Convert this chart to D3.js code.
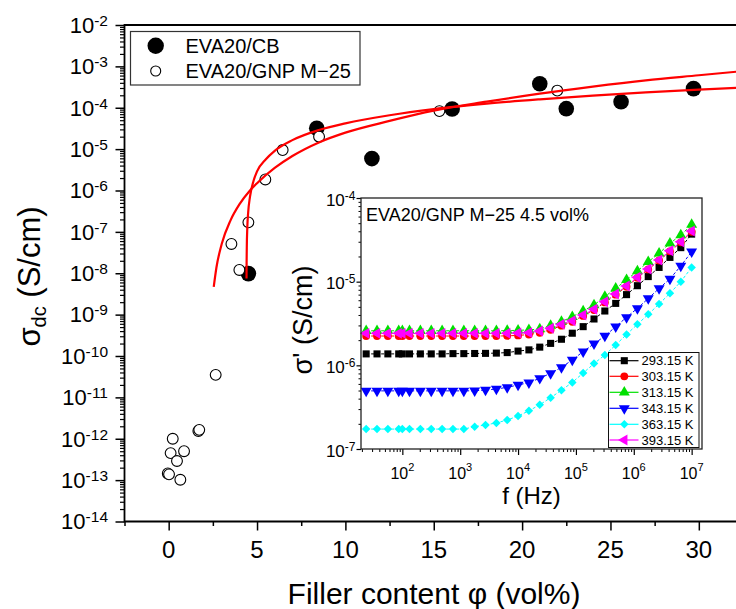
<!DOCTYPE html>
<html><head><meta charset="utf-8">
<script src="https://cdn.jsdelivr.net/npm/d3@7"></script>
<style>
html,body{margin:0;padding:0;background:#fff;}
svg{display:block;font-family:"Liberation Sans",Arial,sans-serif;}
</style></head>
<body>
<svg id="chart" width="736" height="609"></svg>
<script>
// ---------------- main plot data ----------------
const cbPhi   = [4.51, 8.38, 11.5, 16.04, 21.0, 22.5, 25.6, 29.7];
const cbSigma = [9.8e-9, 3.2e-5, 5.9e-6, 9.3e-5, 3.8e-4, 9.5e-5, 1.4e-4, 2.9e-4];

const gnpPhi   = [-0.05, 0.02, 0.11, 0.23, 0.47, 0.66, 0.87, 1.68, 1.73, 2.66, 3.55, 4.0, 4.51, 5.47, 6.45, 8.51, 15.32, 21.99];
const gnpSigma = [1.45e-13, 1.38e-13, 4.5e-13, 1.0e-12, 2.9e-13, 1.02e-13, 5.0e-13, 1.54e-12, 1.64e-12, 3.5e-11, 5.1e-8, 1.2e-8, 1.7e-7, 1.85e-6, 9.5e-6, 2.0e-5, 8.3e-5, 2.6e-4];

// fitted percolation curves
const gnpFitPhi   = [2.55, 2.7, 3.0, 3.5, 4.0, 4.6, 5.0, 6.0, 7.0, 8.5, 10, 12.5, 15, 18, 21, 24, 27, 30, 32.5];
const gnpFitSigma = [4.7e-9, 1.36e-8, 5.1e-8, 1.9e-7, 4.6e-7, 1.0e-6, 1.5e-6, 3.5e-6, 6.8e-6, 1.45e-5, 2.5e-5, 4.8e-5, 8.5e-5, 1.4e-4, 2.2e-4, 3.25e-4, 4.6e-4, 6.1e-4, 7.7e-4];
const cbFitPhi   = [4.405, 4.41, 4.42, 4.45, 4.5, 4.6, 4.8, 5.0, 5.5, 6.0, 7.0, 8.5, 10, 12.5, 15, 18, 21, 24, 27, 30, 32.5];
const cbFitSigma = [7.5e-9, 1.76e-8, 4.1e-8, 1.28e-7, 3.0e-7, 7.0e-7, 1.7e-6, 2.9e-6, 5.7e-6, 9.1e-6, 1.65e-5, 2.9e-5, 4.2e-5, 6.6e-5, 9.3e-5, 1.26e-4, 1.6e-4, 1.97e-4, 2.35e-4, 2.74e-4, 3.08e-4];

const xTicksMain = [0, 5, 10, 15, 20, 25, 30];
const xMinorMain = [-2.5, 2.5, 7.5, 12.5, 17.5, 22.5, 27.5, 32.5];
const yExpMain = [-14, -13, -12, -11, -10, -9, -8, -7, -6, -5, -4, -3, -2];

// ---------------- inset data ----------------
const freq = [23.7, 36.5, 56.2, 86.6, 100, 133, 205, 316, 487, 750, 1155, 1778, 2738, 4217, 6494,
  1.0e4, 1.54e4, 2.371e4, 3.652e4, 5.623e4, 8.66e4, 1.334e5, 2.054e5, 3.162e5, 4.87e5, 7.499e5,
  1.155e6, 1.778e6, 2.738e6, 4.217e6, 6.494e6, 1.0e7];

const s293 = [1.37e-6,1.37e-6,1.37e-6,1.37e-6,1.37e-6,1.37e-6,1.37e-6,1.37e-6,1.37e-6,1.38e-6,1.38e-6,
  1.385e-6,1.39e-6,1.40e-6,1.42e-6,1.48e-6,1.53e-6,1.65e-6,1.83e-6,2.05e-6,2.42e-6,2.9e-6,3.58e-6,
  4.46e-6,5.5e-6,7.0e-6,8.95e-6,1.15e-5,1.48e-5,1.95e-5,2.55e-5,3.7e-5];
const s303 = [2.24e-6,2.24e-6,2.24e-6,2.24e-6,2.24e-6,2.24e-6,2.24e-6,2.24e-6,2.24e-6,2.24e-6,2.24e-6,
  2.24e-6,2.24e-6,2.24e-6,2.25e-6,2.28e-6,2.33e-6,2.45e-6,2.66e-6,2.98e-6,3.32e-6,3.9e-6,4.58e-6,
  5.65e-6,7.0e-6,8.7e-6,1.11e-5,1.4e-5,1.79e-5,2.3e-5,2.95e-5,3.95e-5];
const s313 = [2.59e-6,2.59e-6,2.59e-6,2.59e-6,2.59e-6,2.59e-6,2.59e-6,2.59e-6,2.59e-6,2.59e-6,2.59e-6,
  2.59e-6,2.59e-6,2.59e-6,2.6e-6,2.62e-6,2.65e-6,2.72e-6,2.98e-6,3.33e-6,3.81e-6,4.46e-6,5.26e-6,
  6.62e-6,8.32e-6,1.05e-5,1.34e-5,1.73e-5,2.18e-5,2.87e-5,3.61e-5,4.8e-5];
const s343 = [4.95e-7,4.95e-7,4.95e-7,4.95e-7,4.95e-7,4.95e-7,4.95e-7,4.95e-7,4.95e-7,4.95e-7,4.95e-7,
  4.97e-7,5.07e-7,5.21e-7,5.46e-7,5.82e-7,6.21e-7,7.0e-7,8.03e-7,9.47e-7,1.16e-6,1.46e-6,1.81e-6,
  2.24e-6,2.9e-6,3.75e-6,4.8e-6,6.3e-6,8.3e-6,1.08e-5,1.54e-5,2.28e-5];
const s363 = [1.73e-7,1.73e-7,1.73e-7,1.73e-7,1.73e-7,1.73e-7,1.73e-7,1.73e-7,1.73e-7,1.73e-7,1.73e-7,
  1.85e-7,1.94e-7,2.05e-7,2.22e-7,2.48e-7,2.86e-7,3.38e-7,4.1e-7,5.05e-7,6.25e-7,8.1e-7,1.05e-6,
  1.33e-6,1.75e-6,2.34e-6,3.09e-6,4.07e-6,5.4e-6,7.26e-6,1.0e-5,1.48e-5];
const s393 = [2.41e-6,2.41e-6,2.41e-6,2.41e-6,2.41e-6,2.41e-6,2.41e-6,2.41e-6,2.41e-6,2.41e-6,2.41e-6,
  2.41e-6,2.41e-6,2.41e-6,2.42e-6,2.44e-6,2.46e-6,2.57e-6,2.77e-6,3.09e-6,3.42e-6,4.0e-6,4.68e-6,
  5.77e-6,7.13e-6,8.87e-6,1.13e-5,1.42e-5,1.82e-5,2.34e-5,3.0e-5,4.04e-5];

const insetSeriesNames = ["293.15 K", "303.15 K", "313.15 K", "343.15 K", "363.15 K", "393.15 K"];
const insetSeriesValues = [s293, s303, s313, s343, s363, s393];
const insetColors = ["#000000", "#ff0000", "#00e000", "#0000ff", "#00ffff", "#ff00ff"];
const insetXExp = [2, 3, 4, 5, 6, 7];
const insetYExp = [-7, -6, -5, -4];

// ---------------- drawing ----------------
const svg = d3.select("#chart");

const M = {left: 124.5, right: 743, top: 25, bottom: 521.5};
const x = d3.scaleLinear().domain([-2.5, 32.5]).range([M.left, M.right]);
const y = d3.scaleLog().domain([1e-14, 1e-2]).range([M.bottom, M.top]);

function minorLog(expArr) {
  const out = [];
  for (let i = 0; i < expArr.length - 1; i++)
    for (let k = 2; k <= 9; k++) out.push(k * Math.pow(10, expArr[i]));
  return out;
}
function powLabel(sel, e, baseSize, supSize, supDy) {
  sel.append("tspan").attr("font-size", baseSize).text("10");
  sel.append("tspan").attr("font-size", supSize).attr("dy", supDy).text(String(e));
}

// main axes (ticks)
const gMain = svg.append("g");
gMain.append("g").attr("transform", `translate(0,${M.bottom})`)
  .call(d3.axisBottom(x).tickValues(xTicksMain).tickSize(9).tickSizeOuter(0).tickFormat(() => ""))
  .call(g => g.select(".domain").remove())
  .call(g => g.selectAll("line").attr("stroke", "#000").attr("stroke-width", 1.5));
gMain.append("g").attr("transform", `translate(0,${M.bottom})`)
  .call(d3.axisBottom(x).tickValues(xMinorMain).tickSize(4.5).tickSizeOuter(0).tickFormat(() => ""))
  .call(g => g.select(".domain").remove())
  .call(g => g.selectAll("line").attr("stroke", "#000").attr("stroke-width", 1.5));
gMain.append("g").attr("transform", `translate(${M.left},0)`)
  .call(d3.axisLeft(y).tickValues(yExpMain.map(e => Math.pow(10, e))).tickSize(9).tickSizeOuter(0).tickFormat(() => ""))
  .call(g => g.select(".domain").remove())
  .call(g => g.selectAll("line").attr("stroke", "#000").attr("stroke-width", 1.5));
gMain.append("g").attr("transform", `translate(${M.left},0)`)
  .call(d3.axisLeft(y).tickValues(minorLog(yExpMain)).tickSize(4.5).tickSizeOuter(0).tickFormat(() => ""))
  .call(g => g.select(".domain").remove())
  .call(g => g.selectAll("line").attr("stroke", "#000").attr("stroke-width", 1.2));

// main tick labels
svg.append("g").selectAll("text").data(xTicksMain).join("text")
  .attr("x", d => x(d)).attr("y", M.bottom + 36.5)
  .attr("text-anchor", "middle").attr("font-size", 24).attr("fill", "#000")
  .text(d => d);
svg.append("g").selectAll("text").data(yExpMain).join("text")
  .attr("x", M.left - 16.5).attr("y", d => y(Math.pow(10, d)) + 7.8)
  .attr("text-anchor", "end").attr("fill", "#000")
  .each(function(e) { powLabel(d3.select(this), e, 22, 15.5, -7); });

// frame
svg.append("path")
  .attr("d", `M${M.right},${M.top}H${M.left}V${M.bottom}H${M.right}`)
  .attr("fill", "none").attr("stroke", "#000").attr("stroke-width", 1.8);

// main data markers
svg.append("g").selectAll("circle").data(cbPhi.map((p, i) => [p, cbSigma[i]])).join("circle")
  .attr("cx", d => x(d[0])).attr("cy", d => y(d[1])).attr("r", 7.8).attr("fill", "#000");
svg.append("g").selectAll("circle").data(gnpPhi.map((p, i) => [p, gnpSigma[i]])).join("circle")
  .attr("cx", d => x(d[0])).attr("cy", d => y(d[1])).attr("r", 5.4)
  .attr("fill", "#fff").attr("stroke", "#000").attr("stroke-width", 1.1);

// fitted curves
const lineMain = d3.line().x(d => x(d[0])).y(d => y(d[1])).curve(d3.curveMonotoneX);
svg.append("path").datum(gnpFitPhi.map((p, i) => [p, gnpFitSigma[i]]))
  .attr("d", lineMain).attr("fill", "none").attr("stroke", "#ff0000").attr("stroke-width", 2.2);
svg.append("path").datum(cbFitPhi.map((p, i) => [p, cbFitSigma[i]]))
  .attr("d", lineMain).attr("fill", "none").attr("stroke", "#ff0000").attr("stroke-width", 2.2);

// main legend
const lg = svg.append("g");
lg.append("rect").attr("x", 130.5).attr("y", 31.5).attr("width", 229.5).attr("height", 53.5)
  .attr("fill", "#fff").attr("stroke", "#333").attr("stroke-width", 1.2);
lg.append("circle").attr("cx", 155.7).attr("cy", 45.7).attr("r", 8.2).attr("fill", "#000");
lg.append("text").attr("x", 185.5).attr("y", 52.8).attr("font-size", 20).text("EVA20/CB");
lg.append("circle").attr("cx", 155.7).attr("cy", 71).attr("r", 5).attr("fill", "#fff")
  .attr("stroke", "#000").attr("stroke-width", 1.1);
lg.append("text").attr("x", 185.5).attr("y", 78.2).attr("font-size", 20).text("EVA20/GNP M\u221225");

// axis titles
svg.append("text").attr("x", 434).attr("y", 604).attr("text-anchor", "middle")
  .attr("font-size", 30).text("Filler content \u03c6 (vol%)");
const yt = svg.append("text").attr("transform", "translate(40,276.5) rotate(-90)")
  .attr("text-anchor", "middle").attr("font-size", 31);
yt.append("tspan").text("\u03c3");
yt.append("tspan").attr("font-size", 20).attr("dy", 6).text("dc");
yt.append("tspan").attr("dy", -6).text(" (S/cm)");

// ---------------- inset ----------------
const I = {left: 361, right: 702, top: 198, bottom: 449};
const xi = d3.scaleLog().domain([19.3, 1.51e7]).range([I.left, I.right]);
const yi = d3.scaleLog().domain([1e-7, 1e-4]).range([I.bottom, I.top]);

svg.append("rect").attr("x", I.left).attr("y", I.top)
  .attr("width", I.right - I.left).attr("height", I.bottom - I.top).attr("fill", "#fff");

const gi = svg.append("g");
const insetXMinor = [];
for (let e = 1; e <= 7; e++) for (let k = 2; k <= 9; k++) {
  const v = k * Math.pow(10, e);
  if (v >= 19.3 && v <= 1.51e7) insetXMinor.push(v);
}
gi.append("g").attr("transform", `translate(0,${I.bottom})`)
  .call(d3.axisBottom(xi).tickValues(insetXExp.map(e => Math.pow(10, e))).tickSize(6).tickSizeOuter(0).tickFormat(() => ""))
  .call(g => g.select(".domain").remove())
  .call(g => g.selectAll("line").attr("stroke", "#000").attr("stroke-width", 1.2));
gi.append("g").attr("transform", `translate(0,${I.bottom})`)
  .call(d3.axisBottom(xi).tickValues(insetXMinor).tickSize(3).tickSizeOuter(0).tickFormat(() => ""))
  .call(g => g.select(".domain").remove())
  .call(g => g.selectAll("line").attr("stroke", "#000").attr("stroke-width", 1));
gi.append("g").attr("transform", `translate(${I.left},0)`)
  .call(d3.axisLeft(yi).tickValues(insetYExp.map(e => Math.pow(10, e))).tickSize(4.5).tickSizeOuter(0).tickFormat(() => ""))
  .call(g => g.select(".domain").remove())
  .call(g => g.selectAll("line").attr("stroke", "#000").attr("stroke-width", 1.2));
gi.append("g").attr("transform", `translate(${I.left},0)`)
  .call(d3.axisLeft(yi).tickValues(minorLog(insetYExp)).tickSize(2.5).tickSizeOuter(0).tickFormat(() => ""))
  .call(g => g.select(".domain").remove())
  .call(g => g.selectAll("line").attr("stroke", "#000").attr("stroke-width", 1));

svg.append("g").selectAll("text").data(insetXExp).join("text")
  .attr("x", d => xi(Math.pow(10, d))).attr("y", I.bottom + 29.5)
  .attr("text-anchor", "middle").attr("fill", "#000")
  .each(function(e) { powLabel(d3.select(this), e, 16, 11, -8); });
svg.append("g").selectAll("text").data(insetYExp).join("text")
  .attr("x", I.left - 5.5).attr("y", d => yi(Math.pow(10, d)) + 7.5)
  .attr("text-anchor", "end").attr("fill", "#000")
  .each(function(e) { powLabel(d3.select(this), e, 17, 12, -6); });

// inset series
const markerGen = [
  d3.symbol().type(d3.symbolSquare).size(50),
  d3.symbol().type(d3.symbolCircle).size(48),
  d3.symbol().type(d3.symbolTriangle).size(52),
  d3.symbol().type(d3.symbolTriangle).size(52),
  d3.symbol().type(d3.symbolSquare).size(36),
  d3.symbol().type(d3.symbolTriangle).size(52)
];
const markerRot = [0, 0, 0, 180, 45, -90];
const lineIn = d3.line().x(d => xi(d[0])).y(d => yi(d[1]));
insetSeriesValues.forEach((vals, si) => {
  const pts = freq.map((f, i) => [f, vals[i]]);
  const g = svg.append("g");
  g.append("path").datum(pts).attr("d", lineIn).attr("fill", "none")
    .attr("stroke", insetColors[si]).attr("stroke-width", 1).attr("stroke-dasharray", "3,2");
  g.selectAll("path.m").data(pts).join("path").attr("class", "m")
    .attr("d", markerGen[si])
    .attr("transform", d => `translate(${xi(d[0])},${yi(d[1])}) rotate(${markerRot[si]})`)
    .attr("fill", insetColors[si]);
});

// inset frame
svg.append("rect").attr("x", I.left).attr("y", I.top)
  .attr("width", I.right - I.left).attr("height", I.bottom - I.top)
  .attr("fill", "none").attr("stroke", "#222").attr("stroke-width", 1.3);

// inset title
svg.append("text").attr("x", 366).attr("y", 220.5).attr("font-size", 18)
  .text("EVA20/GNP M\u221225 4.5 vol%");

// inset axis titles
svg.append("text").attr("x", (I.left + I.right) / 2).attr("y", 504)
  .attr("text-anchor", "middle").attr("font-size", 24).text("f (Hz)");
svg.append("text").attr("transform", "translate(312,320) rotate(-90)")
  .attr("text-anchor", "middle").attr("font-size", 27).text("\u03c3' (S/cm)");

// inset legend
const il = svg.append("g");
il.append("rect").attr("x", 608.5).attr("y", 352.5).attr("width", 90.5).attr("height", 95)
  .attr("fill", "#fff").attr("stroke", "#111").attr("stroke-width", 1);
const legY = [360.7, 376.3, 392.3, 408.3, 424.3, 440];
insetSeriesNames.forEach((nm, si) => {
  const yy = legY[si];
  il.append("line").attr("x1", 609.5).attr("x2", 638.5).attr("y1", yy).attr("y2", yy)
    .attr("stroke", insetColors[si]).attr("stroke-width", 1.2);
  il.append("path").attr("d", markerGen[si])
    .attr("transform", `translate(624.3,${yy}) rotate(${markerRot[si]})`)
    .attr("fill", insetColors[si]);
  il.append("text").attr("x", 641.5).attr("y", yy + 4.7).attr("font-size", 13).text(nm);
});
</script>
</body></html>
